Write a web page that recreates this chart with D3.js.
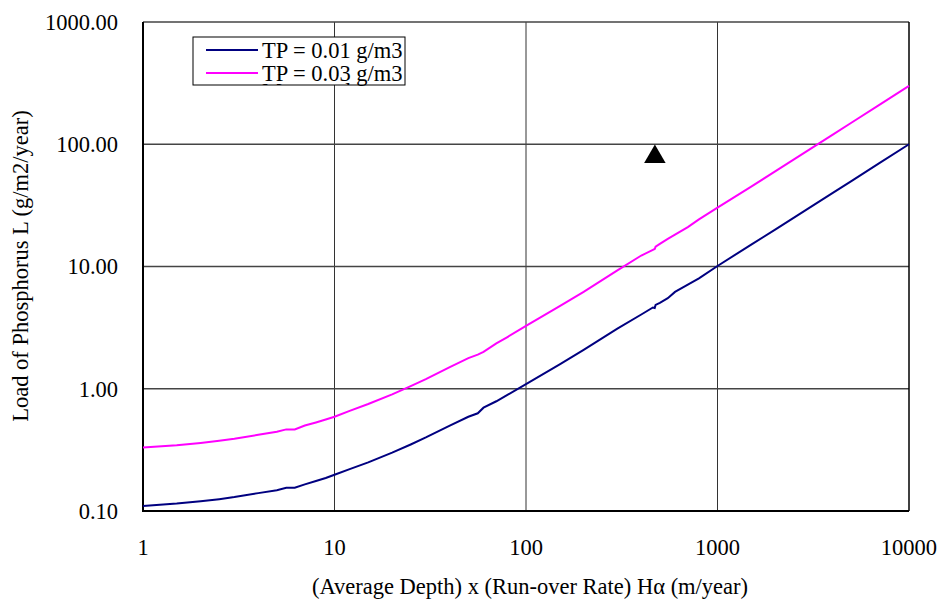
<!DOCTYPE html>
<html>
<head>
<meta charset="utf-8">
<script src="https://cdn.jsdelivr.net/npm/d3@7"></script>
<style>
  body { margin: 0; background: #fff; }
  svg { display: block; font-family: "Liberation Serif", "Times New Roman", serif; }
</style>
</head>
<body>
<svg width="939" height="601"></svg>
<script>
// x values (H·alpha, m/year)
var xVals = [1, 1.5, 2, 2.5, 3, 4, 5, 5.6, 6.2, 7, 8, 9, 10, 12, 15, 20, 25, 30, 40, 50, 56, 60, 70, 80, 100,
  150, 200, 300, 400, 460, 470, 475, 500, 550, 600, 700, 800, 1000, 1500, 2000, 3000, 4000, 5000, 7000, 10000];
// TP = 0.01 g/m3
var tp001 = [0.110, 0.115, 0.120, 0.125, 0.130, 0.140, 0.148, 0.155, 0.155, 0.165, 0.176, 0.186, 0.198, 0.22, 0.25,
  0.30, 0.35, 0.40, 0.50, 0.59, 0.63, 0.70, 0.79, 0.89, 1.09, 1.58, 2.08, 3.1, 4.05, 4.62, 4.58, 4.85, 5.05, 5.5,
  6.2, 7.1, 8.0, 10.1, 15.1, 20.0, 30.0, 40.0, 50.0, 70.0, 100.0];
// TP = 0.03 g/m3
var tp003 = [0.33, 0.345, 0.36, 0.375, 0.39, 0.42, 0.445, 0.465, 0.465, 0.50, 0.53, 0.56, 0.59, 0.66, 0.75,
  0.90, 1.05, 1.20, 1.50, 1.78, 1.9, 2.0, 2.35, 2.65, 3.27, 4.75, 6.2, 9.3, 12.3, 13.7, 13.9, 14.5, 15.3, 16.8,
  18.2, 21.0, 24.3, 30.3, 45, 60, 90, 120, 150, 210, 300];
// measured point
var pointX = [471];
var pointY = [82];

var xTicks = [1, 10, 100, 1000, 10000];
var yTicks = [0.1, 1, 10, 100, 1000];

var svg = d3.select("svg");
var pLeft = 143, pRight = 909, pTop = 22, pBottom = 511;

var xScale = d3.scaleLog().domain([1, 10000]).range([pLeft, pRight]);
var yScale = d3.scaleLog().domain([0.1, 1000]).range([pBottom, pTop]);

// grid
svg.append("g").selectAll("line").data(xTicks.slice(1, 4)).enter().append("line")
  .attr("x1", function(d) { return xScale(d); }).attr("x2", function(d) { return xScale(d); })
  .attr("y1", pTop).attr("y2", pBottom)
  .attr("stroke", "#333").attr("stroke-width", 1);
svg.append("g").selectAll("line").data(yTicks.slice(1)).enter().append("line")
  .attr("x1", pLeft).attr("x2", pRight)
  .attr("y1", function(d) { return yScale(d); }).attr("y2", function(d) { return yScale(d); })
  .attr("stroke", "#444").attr("stroke-width", 1.5);
// right border
svg.append("line").attr("x1", pRight).attr("x2", pRight).attr("y1", pTop).attr("y2", pBottom)
  .attr("stroke", "#000").attr("stroke-width", 1.5);

// axes lines
svg.append("line").attr("x1", pLeft).attr("x2", pLeft).attr("y1", pTop).attr("y2", pBottom + 1)
  .attr("stroke", "#000").attr("stroke-width", 2);
svg.append("line").attr("x1", pLeft - 1).attr("x2", pRight).attr("y1", pBottom).attr("y2", pBottom)
  .attr("stroke", "#000").attr("stroke-width", 2);

// tick labels
svg.append("g").selectAll("text").data(yTicks).enter().append("text")
  .attr("x", 118).attr("y", function(d) { return yScale(d); })
  .attr("dy", "0.35em").attr("text-anchor", "end")
  .attr("font-size", 22.5)
  .text(function(d) { return d.toFixed(2); });
svg.append("g").selectAll("text").data(xTicks).enter().append("text")
  .attr("x", function(d) { return xScale(d); }).attr("y", 547)
  .attr("dy", "0.35em").attr("text-anchor", function(d) { return d === 10000 ? "end" : "middle"; })
  .attr("dx", function(d) { return d === 10000 ? 28 : 0; })
  .attr("font-size", 22.5)
  .text(function(d) { return d; });

// titles
svg.append("text").attr("x", 530).attr("y", 586).attr("dy", "0.35em")
  .attr("text-anchor", "middle").attr("font-size", 22.5)
  .text("(Average Depth) x (Run-over Rate) H\u03b1 (m/year)");
svg.append("text").attr("transform", "translate(20,266) rotate(-90)").attr("dy", "0.35em")
  .attr("text-anchor", "middle").attr("font-size", 22.5)
  .text("Load of Phosphorus L (g/m2/year)");

// curves
var line = d3.line()
  .x(function(d) { return xScale(d[0]); })
  .y(function(d) { return yScale(d[1]); });

svg.append("path").datum(d3.zip(xVals, tp003)).attr("d", line)
  .attr("fill", "none").attr("stroke", "#ff00ff").attr("stroke-width", 2);
svg.append("path").datum(d3.zip(xVals, tp001)).attr("d", line)
  .attr("fill", "none").attr("stroke", "#000080").attr("stroke-width", 2);

// measured point
svg.append("g").selectAll("path").data(d3.zip(pointX, pointY)).enter().append("path")
  .attr("transform", function(d) { return "translate(" + xScale(d[0]) + "," + (yScale(d[1]) + 2) + ")"; })
  .attr("d", d3.symbol().type(d3.symbolTriangle).size(200))
  .attr("fill", "#000");

// legend
var leg = svg.append("g");
leg.append("clipPath").attr("id", "legclip").append("rect")
  .attr("x", 193).attr("y", 37).attr("width", 212).attr("height", 48);
leg.append("rect").attr("x", 193).attr("y", 37).attr("width", 212).attr("height", 48)
  .attr("fill", "#fff").attr("stroke", "#000").attr("stroke-width", 1);
var legItems = [["TP = 0.01 g/m3", "#000080"], ["TP = 0.03 g/m3", "#ff00ff"]];
var li = leg.selectAll("g.item").data(legItems).enter().append("g").attr("class", "item")
  .attr("transform", function(d, i) { return "translate(0," + (50 + i * 23) + ")"; });
li.append("line").attr("x1", 206).attr("x2", 258).attr("stroke", function(d) { return d[1]; })
  .attr("stroke-width", 2);
li.append("text").attr("x", 262).attr("dy", "0.35em").attr("font-size", 22.5)
  .text(function(d) { return d[0]; });
leg.append("text").attr("clip-path", "url(#legclip)")
  .attr("x", 262).attr("y", 99).attr("font-size", 22.5)
  .text("Measured");
</script>
</body>
</html>
